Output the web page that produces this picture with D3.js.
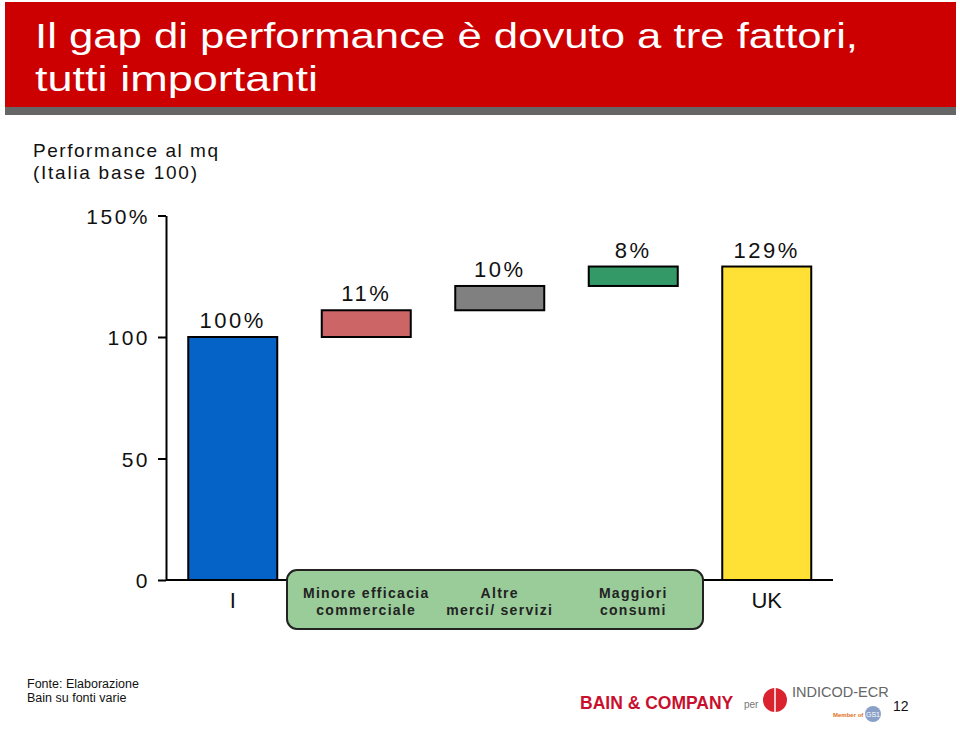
<!DOCTYPE html>
<html>
<head>
<meta charset="utf-8">
<script src="https://cdn.jsdelivr.net/npm/d3@7"></script>
<style>
  html, body { margin: 0; padding: 0; background: #fff; }
  svg { display: block; }
  text { font-family: "Liberation Sans", Arial, sans-serif; }
</style>
</head>
<body>
<svg id="chart" width="960" height="731"></svg>
<script>
// ---- data ----
const categories = ["I", "Minore efficacia commerciale", "Altre merci/servizi", "Maggiori consumi", "UK"];
const values = [100, 11, 10, 8, 129];
const barTypes = ["total", "delta", "delta", "delta", "total"];
const valueLabels = ["100%", "11%", "10%", "8%", "129%"];
const barColors = ["#0563c8", "#cc6666", "#808080", "#339966", "#ffe135"];
const tickValues = [0, 50, 100, 150];
const tickLabels = ["0", "50", "100", "150%"];
const factorLabels = [["Minore efficacia", "commerciale"], ["Altre", "merci/ servizi"], ["Maggiori", "consumi"]];
const titleLines = ["Il gap di performance è dovuto a tre fattori,", "tutti importanti"];
const subtitleLines = ["Performance al mq", "(Italia base 100)"];
const sourceLines = ["Fonte: Elaborazione", "Bain su fonti varie"];

const svg = d3.select("#chart");

// ---- header ----
svg.append("rect").attr("x", 5).attr("y", 2).attr("width", 951).attr("height", 106).attr("fill", "#cc0000");
svg.append("rect").attr("x", 5).attr("y", 107).attr("width", 951).attr("height", 8).attr("fill", "#666666");
const titleW = [823, 283];
svg.selectAll(".title").data(titleLines).join("text")
  .attr("x", 35).attr("y", (d, i) => 48 + i * 43)
  .attr("fill", "#fff").attr("font-size", 35)
  .attr("font-family", "'Liberation Sans Narrow', 'Liberation Sans', Arial, sans-serif")
  .attr("textLength", (d, i) => titleW[i]).attr("lengthAdjust", "spacingAndGlyphs")
  .text(d => d);

const subW = [185, 164];
svg.selectAll(".sub").data(subtitleLines).join("text")
  .attr("x", 33).attr("y", (d, i) => 157 + i * 22)
  .attr("fill", "#111").attr("font-size", 19)
  .attr("textLength", (d, i) => subW[i]).attr("lengthAdjust", "spacing")
  .text(d => d);

// ---- scales ----
const y = d3.scaleLinear().domain([0, 150]).range([580, 215.5]);
const x = d3.scaleBand().domain(categories).range([166, 833.5]).paddingInner(1 / 3).paddingOuter(1 / 6);

// waterfall geometry
let run = 0;
const bars = categories.map((c, i) => {
  let lo, hi;
  if (barTypes[i] === "total") { lo = 0; hi = values[i]; run = values[i]; }
  else { lo = run; hi = run + values[i]; run = hi; }
  return { cat: c, lo, hi, label: valueLabels[i], color: barColors[i] };
});

// ---- axis ----
const axis = d3.axisLeft(y).tickValues(tickValues).tickFormat((d, i) => tickLabels[i])
  .tickSize(8).tickSizeOuter(0).tickPadding(8);
const gAxis = svg.append("g").attr("transform", "translate(166,0)").call(axis);
gAxis.select(".domain").attr("stroke", "#000").attr("stroke-width", 2);
gAxis.selectAll(".tick line").attr("stroke", "#000").attr("stroke-width", 2);
gAxis.selectAll(".tick text").attr("font-size", 21).attr("fill", "#111")
  .attr("font-family", "'Liberation Sans', Arial, sans-serif").attr("letter-spacing", 2.5)
  .attr("dy", "0.36em");

// baseline
svg.append("line").attr("x1", 166).attr("x2", 833).attr("y1", y(0)).attr("y2", y(0))
  .attr("stroke", "#000").attr("stroke-width", 2);

// ---- bars ----
svg.selectAll(".bar").data(bars).join("rect")
  .attr("x", d => x(d.cat)).attr("width", x.bandwidth())
  .attr("y", d => y(d.hi)).attr("height", d => y(d.lo) - y(d.hi))
  .attr("fill", d => d.color).attr("stroke", "#000").attr("stroke-width", 2);

svg.selectAll(".vlab").data(bars).join("text")
  .attr("x", d => x(d.cat) + x.bandwidth() / 2).attr("y", d => y(d.hi) - 9)
  .attr("text-anchor", "middle").attr("font-size", 22).attr("letter-spacing", 2.5).attr("fill", "#111")
  .text(d => d.label);

// ---- category labels ----
const endCats = [categories[0], categories[4]];
svg.selectAll(".clab").data(endCats).join("text")
  .attr("x", d => x(d) + x.bandwidth() / 2).attr("y", 608)
  .attr("text-anchor", "middle").attr("font-size", 22).attr("fill", "#111")
  .text(d => d);

svg.append("rect").attr("x", 287).attr("y", 570).attr("width", 416).attr("height", 59)
  .attr("rx", 10).attr("fill", "#99cc99").attr("stroke", "#222").attr("stroke-width", 2);

const midCats = categories.slice(1, 4);
midCats.forEach((c, i) => {
  factorLabels[i].forEach((line, j) => {
    svg.append("text").attr("x", x(c) + x.bandwidth() / 2).attr("y", 598 + j * 17)
      .attr("text-anchor", "middle").attr("font-size", 14).attr("font-weight", "bold")
      .attr("letter-spacing", 1.3).attr("fill", "#222").text(line);
  });
});

// ---- footer ----
svg.selectAll(".src").data(sourceLines).join("text")
  .attr("x", 27).attr("y", (d, i) => 688 + i * 14)
  .attr("font-size", 12.5).attr("fill", "#111")
  .attr("font-family", "'Liberation Sans Narrow', 'Liberation Sans', Arial, sans-serif")
  .text(d => d);

svg.append("text").attr("x", 580).attr("y", 709).attr("font-size", 17.5).attr("font-weight", "bold")
  .attr("fill", "#c8102e").text("BAIN & COMPANY");
svg.append("text").attr("x", 744).attr("y", 708).attr("font-size", 10).attr("fill", "#777").text("per");
svg.append("circle").attr("cx", 775).attr("cy", 700).attr("r", 12).attr("fill", "#d9232e");
svg.append("line").attr("x1", 775).attr("x2", 775).attr("y1", 688).attr("y2", 712).attr("stroke", "#fff").attr("stroke-width", 1.5);
svg.append("text").attr("x", 792).attr("y", 697).attr("font-size", 14.5).attr("fill", "#666")
  .text("INDICOD-ECR");
svg.append("text").attr("x", 833).attr("y", 717).attr("font-size", 6).attr("font-weight", "bold").attr("fill", "#e07020").text("Member of");
svg.append("circle").attr("cx", 873).attr("cy", 714).attr("r", 8).attr("fill", "#8aa0c8");
svg.append("text").attr("x", 873).attr("y", 717).attr("text-anchor", "middle").attr("font-size", 7).attr("fill", "#fff").text("GS1");
svg.append("text").attr("x", 893).attr("y", 711).attr("font-size", 14).attr("fill", "#111").text("12");
</script>
</body>
</html>
